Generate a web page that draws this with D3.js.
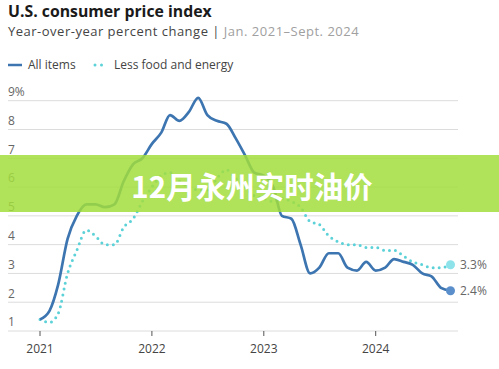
<!DOCTYPE html>
<head>
  <meta charset="utf-8">
  <title>CPI</title>
  <style>
    body { margin: 0; background: #fff; }
    .grid line { stroke: #dcdcdc; stroke-width: 1px; }
    .ylab { font: 12px "Open Sans", sans-serif; fill: #666; }
    .xlab { font: 12px "Open Sans", sans-serif; fill: #444; text-anchor: middle; }
  </style>
</head>
<body>
  <div id="chart"></div>
  <script src="https://cdn.jsdelivr.net/npm/d3@7"></script>
  <script>
    var width = 499,
        height = 369;

    // monthly values, Jan 2021 - Sept 2024
    var startMonth = new Date(2021, 0, 1);
    var allItems = [1.4, 1.7, 2.6, 4.2, 5.0, 5.4, 5.4, 5.3, 5.4, 6.2, 6.8, 7.0,
                    7.5, 7.9, 8.5, 8.3, 8.6, 9.1, 8.5, 8.3, 8.2, 7.7, 7.1, 6.5,
                    6.4, 6.0, 5.0, 4.9, 4.0, 3.0, 3.2, 3.7, 3.7, 3.2, 3.1, 3.4,
                    3.1, 3.2, 3.5, 3.4, 3.3, 3.0, 2.9, 2.5, 2.4];
    var lessFoodEnergy = [1.4, 1.3, 1.6, 3.0, 3.8, 4.5, 4.3, 4.0, 4.0, 4.6, 4.9, 5.5,
                          6.0, 6.4, 6.5, 6.2, 6.0, 5.9, 5.9, 6.3, 6.6, 6.3, 6.0, 5.7,
                          5.6, 5.5, 5.6, 5.5, 5.3, 4.8, 4.7, 4.3, 4.1, 4.0, 4.0, 3.9,
                          3.9, 3.8, 3.8, 3.6, 3.4, 3.3, 3.2, 3.2, 3.3];
    var yTicks = [1, 2, 3, 4, 5, 6, 7, 8, 9];
    var xTicks = [2021, 2022, 2023, 2024];
    var seriesNames = ["All items", "Less food and energy"];
    var bannerText = "12月永州实时油价";

    var blue = "#3d75b1", teal = "#5cd2d8";

    var svg = d3.select("#chart").append("svg")
        .attr("width", width)
        .attr("height", height);

    var x = d3.scaleTime()
        .domain([new Date(2021, 0, 1), new Date(2024, 8, 1)])
        .range([40, 450.5]);
    var y = d3.scaleLinear().domain([1, 9]).range([331, 100.7]);

    function dateOf(i) { return d3.timeMonth.offset(startMonth, i); }

    // title
    svg.append("text").attr("x", 8).attr("y", 17)
      .style("font", "bold 15.8px 'Open Sans', sans-serif").style("fill", "#1a1a1a")
      .text("U.S. consumer price index");
    var sub = svg.append("text").attr("x", 8).attr("y", 36)
      .style("font", "13px 'Open Sans', sans-serif")
      .style("letter-spacing", "0.5px");
    sub.append("tspan").style("fill", "#444").text("Year-over-year percent change | ");
    sub.append("tspan").style("fill", "#a0a0a0").text("Jan. 2021–Sept. 2024");

    // legend
    var lg = svg.append("g").style("font", "12px 'Open Sans', sans-serif").style("fill", "#444");
    lg.append("line").attr("x1", 8).attr("x2", 22).attr("y1", 65).attr("y2", 65)
      .attr("stroke", blue).attr("stroke-width", 2.5);
    lg.append("text").attr("x", 28).attr("y", 69).text(seriesNames[0]);
    lg.append("line").attr("x1", 95).attr("x2", 103).attr("y1", 65).attr("y2", 65)
      .attr("stroke", teal).attr("stroke-width", 3).attr("stroke-linecap", "round")
      .attr("stroke-dasharray", "0,6.5");
    lg.append("text").attr("x", 114).attr("y", 69).text(seriesNames[1]);

    // grid
    var grid = svg.append("g").attr("class", "grid");
    grid.selectAll("line").data(yTicks).enter().append("line")
      .attr("x1", 8).attr("x2", 458)
      .attr("y1", function(d) { return y(d); })
      .attr("y2", function(d) { return y(d); });
    grid.selectAll("text").data(yTicks).enter().append("text")
      .attr("class", "ylab")
      .attr("x", 8)
      .attr("y", function(d) { return y(d) - 4.7; })
      .text(function(d) { return d === 9 ? d + "%" : d; });

    // x axis ticks
    var xa = svg.append("g");
    xa.selectAll("line").data(xTicks).enter().append("line")
      .attr("x1", function(d) { return x(new Date(d, 0, 1)); })
      .attr("x2", function(d) { return x(new Date(d, 0, 1)); })
      .attr("y1", 331).attr("y2", 336)
      .attr("stroke", "#555").attr("stroke-width", 1);
    xa.selectAll("text").data(xTicks).enter().append("text")
      .attr("class", "xlab")
      .attr("x", function(d) { return x(new Date(d, 0, 1)); })
      .attr("y", 353)
      .text(function(d) { return d; });

    var line = d3.line()
      .x(function(d, i) { return x(dateOf(i)); })
      .y(function(d) { return y(d); })
      .curve(d3.curveMonotoneX);

    svg.append("path").datum(lessFoodEnergy)
      .attr("d", line).attr("fill", "none")
      .attr("stroke", teal).attr("stroke-width", 3)
      .attr("stroke-linecap", "round").attr("stroke-dasharray", "0,6");

    svg.append("path").datum(allItems)
      .attr("d", line).attr("fill", "none")
      .attr("stroke", blue).attr("stroke-width", 2.7)
      .attr("stroke-linejoin", "round");

    // end points
    var last = allItems.length - 1;
    var ends = [
      { v: lessFoodEnergy[last], c: "#8ee2ea" },
      { v: allItems[last], c: "#5a8fcb" }
    ];
    svg.selectAll(".endpt").data(ends).enter().append("circle")
      .attr("class", "endpt")
      .attr("cx", x(dateOf(last)))
      .attr("cy", function(d) { return y(d.v); })
      .attr("r", 4.5)
      .attr("fill", function(d) { return d.c; });
    svg.selectAll(".endlab").data(ends).enter().append("text")
      .attr("class", "endlab")
      .attr("x", 460)
      .attr("y", function(d) { return y(d.v) + 4; })
      .style("font", "12px 'Open Sans', sans-serif").style("fill", "#666")
      .text(function(d) { return d.v.toFixed(1) + "%"; });

    // banner overlay
    svg.append("rect").attr("x", 0).attr("y", 155).attr("width", width).attr("height", 57)
      .attr("fill", "rgba(162,221,61,0.85)");
    svg.append("text").attr("x", 252).attr("y", 198)
      .attr("text-anchor", "middle")
      .style("font", "bold 29.5px 'Noto Sans CJK SC', sans-serif")
      .style("fill", "#fff")
      .text(bannerText);
  </script>
</body>
